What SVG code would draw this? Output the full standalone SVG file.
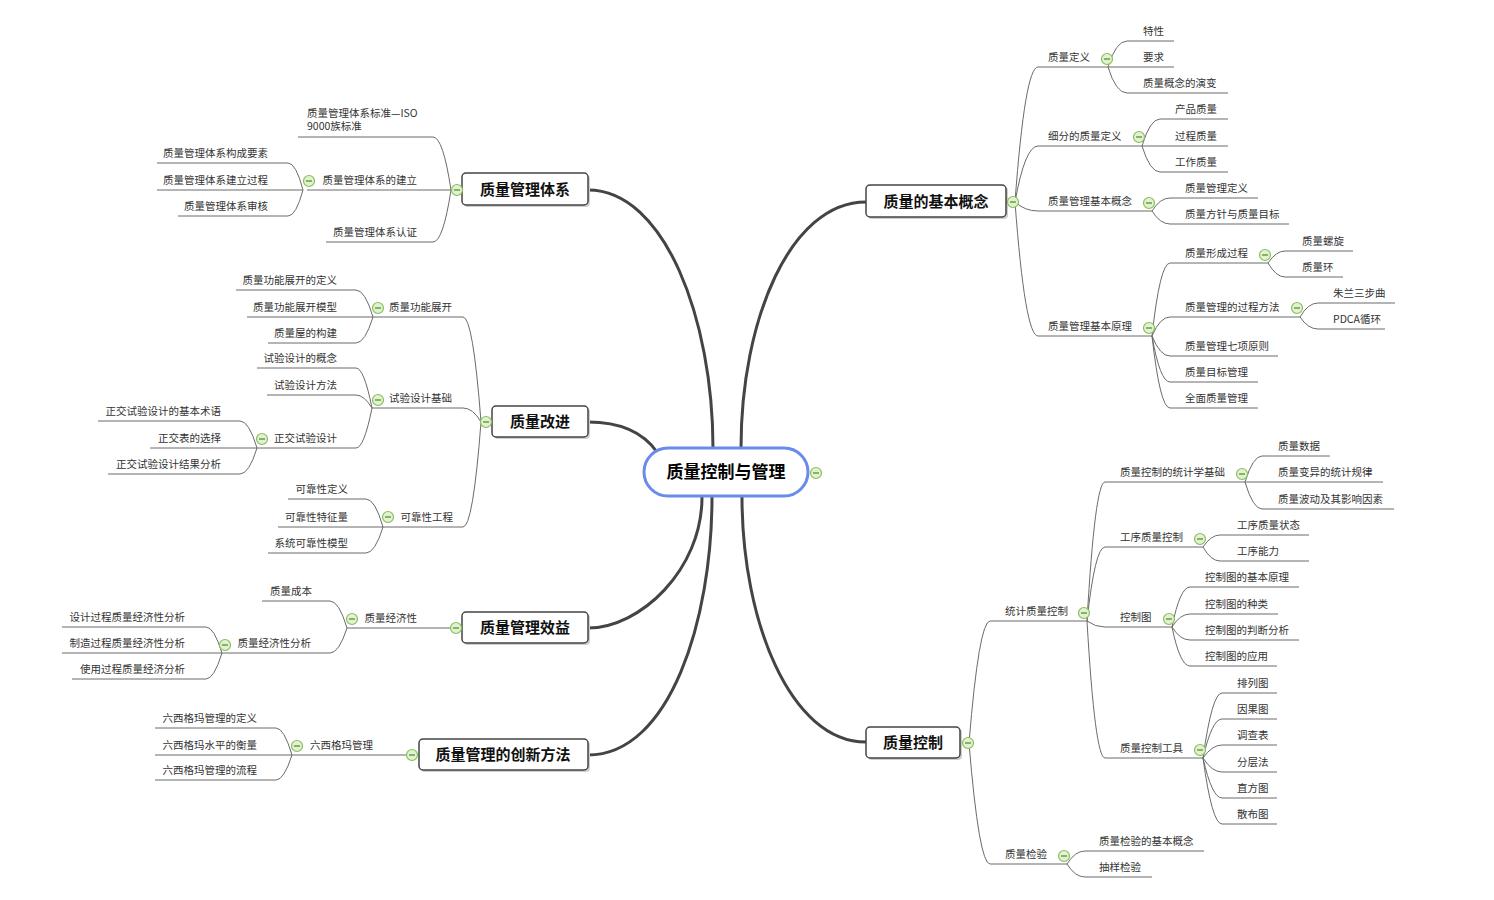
<svg xmlns="http://www.w3.org/2000/svg" xmlns:xlink="http://www.w3.org/1999/xlink" width="1494" height="900" viewBox="0 0 1494 900">
<style>
.main{fill:none;stroke:#444;stroke-width:3}
.sub{fill:none;stroke:#6b6b6b;stroke-width:1}
.t{font-family:"Noto Sans CJK SC","Liberation Sans",sans-serif;font-size:10.5px;fill:#333}
.e{text-anchor:end}
.mt{font-family:"Noto Sans CJK SC","Liberation Sans",sans-serif;font-size:15px;font-weight:bold;fill:#111;text-anchor:middle}
.ct{font-family:"Noto Sans CJK SC","Liberation Sans",sans-serif;font-size:17px;font-weight:bold;fill:#000;text-anchor:middle}
.box{fill:#fff;stroke:#444;stroke-width:1.5}
.sh{fill:#cfcfcf}
.root{fill:#fff;stroke:#6a8bec;stroke-width:3}
</style>
<defs>
<g id="tog"><circle r="5.5" fill="#e2f1d0" stroke="#86c05a" stroke-width="1.2"/><line x1="-3" y1="0" x2="3" y2="0" stroke="#4f8530" stroke-width="1.2"/></g>
</defs>
<rect width="1494" height="900" fill="#fff"/>
<g id="connectors">
<path class="main" d="M588 190 C665 190 713 320 713 448"/>
<path class="main" d="M588 422 C625 422 645 435 657 452"/>
<path class="main" d="M588 628 C640 628 702 570 702 497"/>
<path class="main" d="M588 755 C670 755 712 620 712 497"/>
<path class="main" d="M866 202 C790 202 741 320 741 448"/>
<path class="main" d="M866 742 C790 742 742 620 742 497"/>
<g class="sub">
<path d="M1015 202 Q1025 67 1038 67 H1108"/>
<path d="M1015 202 Q1025 146 1038 146 H1142"/>
<path d="M1015 202 Q1025 211 1038 211 H1152"/>
<path d="M1015 202 Q1025 336 1038 336 H1152"/>
<path d="M1108 67 Q1116 41 1127 41 H1174"/>
<path d="M1108 67 H1174"/>
<path d="M1108 67 Q1116 93 1127 93 H1228"/>
<path d="M1142 146 Q1150 119 1160 119 H1228"/>
<path d="M1142 146 H1228"/>
<path d="M1142 146 Q1150 172 1160 172 H1228"/>
<path d="M1152 211 Q1160 198 1170 198 H1258"/>
<path d="M1152 211 Q1160 224 1170 224 H1289"/>
<path d="M1152 336 Q1160 263 1170 263 H1268"/>
<path d="M1152 336 Q1160 317 1170 317 H1300"/>
<path d="M1152 336 Q1160 356 1170 356 H1278"/>
<path d="M1152 336 Q1160 382 1170 382 H1258"/>
<path d="M1152 336 Q1160 408 1170 408 H1258"/>
<path d="M1268 263 Q1276 251 1285 251 H1353"/>
<path d="M1268 263 Q1276 277 1285 277 H1343"/>
<path d="M1300 317 Q1308 303 1318 303 H1395"/>
<path d="M1300 317 Q1308 329 1318 329 H1385"/>
<path d="M969 743 Q979 621 990 621 H1087"/>
<path d="M969 743 Q979 864 990 864 H1067"/>
<path d="M1087 621 Q1095 482 1105 482 H1245"/>
<path d="M1087 621 Q1095 547 1105 547 H1203"/>
<path d="M1087 621 Q1095 627 1105 627 H1172"/>
<path d="M1087 621 Q1095 758 1105 758 H1203"/>
<path d="M1245 482 Q1253 456 1262 456 H1330"/>
<path d="M1245 482 H1383"/>
<path d="M1245 482 Q1253 509 1262 509 H1394"/>
<path d="M1203 547 Q1211 535 1220 535 H1309"/>
<path d="M1203 547 Q1211 561 1220 561 H1309"/>
<path d="M1172 627 Q1180 587 1190 587 H1299"/>
<path d="M1172 627 Q1180 614 1190 614 H1278"/>
<path d="M1172 627 Q1180 640 1190 640 H1299"/>
<path d="M1172 627 Q1180 666 1190 666 H1277"/>
<path d="M1203 758 Q1212 693 1222 693 H1277"/>
<path d="M1203 758 Q1212 719 1222 719 H1277"/>
<path d="M1203 758 Q1212 745 1222 745 H1277"/>
<path d="M1203 758 Q1212 772 1222 772 H1277"/>
<path d="M1203 758 Q1212 798 1222 798 H1277"/>
<path d="M1203 758 Q1212 824 1222 824 H1277"/>
<path d="M1067 864 Q1075 851 1085 851 H1204"/>
<path d="M1067 864 Q1075 877 1085 877 H1152"/>
<path d="M451 190 Q443 137 433 137 H298"/>
<path d="M451 190 H307"/>
<path d="M451 190 Q443 242 433 242 H326"/>
<path d="M303 190 Q296 163 288 163 H157"/>
<path d="M303 190 H157"/>
<path d="M303 190 Q296 216 288 216 H178"/>
<path d="M481 422 Q473 317 463 317 H373"/>
<path d="M481 422 Q473 408 463 408 H372"/>
<path d="M481 422 Q473 527 463 527 H383"/>
<path d="M373 317 Q365 290 356 290 H236"/>
<path d="M373 317 H247"/>
<path d="M373 317 Q365 343 356 343 H268"/>
<path d="M372 408 Q364 368 356 368 H257"/>
<path d="M372 408 Q364 395 356 395 H267"/>
<path d="M372 408 Q364 448 356 448 H257"/>
<path d="M257 448 Q249 421 240 421 H98"/>
<path d="M257 448 H150"/>
<path d="M257 448 Q249 474 240 474 H108"/>
<path d="M383 527 Q375 499 366 499 H288"/>
<path d="M383 527 H278"/>
<path d="M383 527 Q375 553 366 553 H268"/>
<path d="M451 628 H347"/>
<path d="M347 628 Q339 601 330 601 H262"/>
<path d="M347 628 Q339 653 330 653 H222"/>
<path d="M222 653 Q214 627 206 627 H62"/>
<path d="M222 653 H62"/>
<path d="M222 653 Q214 679 206 679 H72"/>
<path d="M407 755 H292"/>
<path d="M292 755 Q284 728 276 728 H155"/>
<path d="M292 755 H155"/>
<path d="M292 755 Q284 780 276 780 H155"/>
</g>
</g>
<g id="root">
<rect class="root" x="644" y="448" width="164" height="48" rx="24"/>
<text class="ct" x="726" y="478">质量控制与管理</text>
<use xlink:href="#tog" x="816" y="473"/>
</g>
<g id="n-tixi">
<rect class="sh" x="464" y="175" width="126" height="32" rx="4"/>
<rect class="box" x="462" y="173" width="126" height="32" rx="4"/>
<text class="mt" x="525" y="195">质量管理体系</text>
<use xlink:href="#tog" x="457" y="190"/>
</g>
<g id="n-gaijin">
<rect class="sh" x="494" y="408" width="96" height="31" rx="4"/>
<rect class="box" x="492" y="406" width="96" height="31" rx="4"/>
<text class="mt" x="540" y="427">质量改进</text>
<use xlink:href="#tog" x="486" y="422"/>
</g>
<g id="n-xiaoyi">
<rect class="sh" x="464" y="614" width="126" height="31" rx="4"/>
<rect class="box" x="462" y="612" width="126" height="31" rx="4"/>
<text class="mt" x="525" y="633">质量管理效益</text>
<use xlink:href="#tog" x="456" y="628"/>
</g>
<g id="n-chuangxin">
<rect class="sh" x="421" y="741" width="169" height="31" rx="4"/>
<rect class="box" x="419" y="739" width="169" height="31" rx="4"/>
<text class="mt" x="503" y="760">质量管理的创新方法</text>
<use xlink:href="#tog" x="412" y="755"/>
</g>
<g id="n-gainian">
<rect class="sh" x="868" y="187" width="140" height="32" rx="4"/>
<rect class="box" x="866" y="185" width="140" height="32" rx="4"/>
<text class="mt" x="936" y="207">质量的基本概念</text>
<use xlink:href="#tog" x="1013" y="202"/>
</g>
<g id="n-kongzhi">
<rect class="sh" x="868" y="729" width="94" height="31" rx="4"/>
<rect class="box" x="866" y="727" width="94" height="31" rx="4"/>
<text class="mt" x="913" y="748">质量控制</text>
<use xlink:href="#tog" x="968" y="743"/>
</g>
<g id="right-sub" class="t">
<g id="s-dingyi"><text x="1048" y="61">质量定义</text><use xlink:href="#tog" x="1107" y="59"/></g>
<g id="s-xifen"><text x="1048" y="140">细分的质量定义</text><use xlink:href="#tog" x="1139" y="137"/></g>
<g id="s-glgn"><text x="1048" y="205">质量管理基本概念</text><use xlink:href="#tog" x="1149" y="203"/></g>
<g id="s-glyl"><text x="1048" y="330">质量管理基本原理</text><use xlink:href="#tog" x="1149" y="328"/></g>
<g id="s-a1"><text x="1143" y="35">特性</text></g>
<g id="s-a2"><text x="1143" y="61">要求</text></g>
<g id="s-a3"><text x="1143" y="87">质量概念的演变</text></g>
<g id="s-b1"><text x="1175" y="113">产品质量</text></g>
<g id="s-b2"><text x="1175" y="140">过程质量</text></g>
<g id="s-b3"><text x="1175" y="166">工作质量</text></g>
<g id="s-c1"><text x="1185" y="192">质量管理定义</text></g>
<g id="s-c2"><text x="1185" y="218">质量方针与质量目标</text></g>
<g id="s-d1"><text x="1185" y="257">质量形成过程</text><use xlink:href="#tog" x="1265" y="255"/></g>
<g id="s-d2"><text x="1185" y="311">质量管理的过程方法</text><use xlink:href="#tog" x="1297" y="308"/></g>
<g id="s-d3"><text x="1185" y="350">质量管理七项原则</text></g>
<g id="s-d4"><text x="1185" y="376">质量目标管理</text></g>
<g id="s-d5"><text x="1185" y="402">全面质量管理</text></g>
<g id="s-e1"><text x="1302" y="245">质量螺旋</text></g>
<g id="s-e2"><text x="1302" y="271">质量环</text></g>
<g id="s-f1"><text x="1333" y="297">朱兰三步曲</text></g>
<g id="s-f2"><text x="1333" y="323">PDCA循环</text></g>
<g id="s-tongji"><text x="1005" y="615">统计质量控制</text><use xlink:href="#tog" x="1084" y="613"/></g>
<g id="s-jianyan"><text x="1005" y="858">质量检验</text><use xlink:href="#tog" x="1064" y="856"/></g>
<g id="s-g1"><text x="1120" y="476">质量控制的统计学基础</text><use xlink:href="#tog" x="1242" y="474"/></g>
<g id="s-g2"><text x="1120" y="541">工序质量控制</text><use xlink:href="#tog" x="1200" y="539"/></g>
<g id="s-g3"><text x="1120" y="621">控制图</text><use xlink:href="#tog" x="1169" y="619"/></g>
<g id="s-g4"><text x="1120" y="752">质量控制工具</text><use xlink:href="#tog" x="1200" y="750"/></g>
<g id="s-h1"><text x="1278" y="450">质量数据</text></g>
<g id="s-h2"><text x="1278" y="476">质量变异的统计规律</text></g>
<g id="s-h3"><text x="1278" y="503">质量波动及其影响因素</text></g>
<g id="s-i1"><text x="1237" y="529">工序质量状态</text></g>
<g id="s-i2"><text x="1237" y="555">工序能力</text></g>
<g id="s-j1"><text x="1205" y="581">控制图的基本原理</text></g>
<g id="s-j2"><text x="1205" y="608">控制图的种类</text></g>
<g id="s-j3"><text x="1205" y="634">控制图的判断分析</text></g>
<g id="s-j4"><text x="1205" y="660">控制图的应用</text></g>
<g id="s-k1"><text x="1237" y="687">排列图</text></g>
<g id="s-k2"><text x="1237" y="713">因果图</text></g>
<g id="s-k3"><text x="1237" y="739">调查表</text></g>
<g id="s-k4"><text x="1237" y="766">分层法</text></g>
<g id="s-k5"><text x="1237" y="792">直方图</text></g>
<g id="s-k6"><text x="1237" y="818">散布图</text></g>
<g id="s-l1"><text x="1099" y="845">质量检验的基本概念</text></g>
<g id="s-l2"><text x="1099" y="871">抽样检验</text></g>
</g>
<g id="left-sub" class="t">
<g id="s-iso"><text x="307" y="117">质量管理体系标准—ISO</text><text x="307" y="130">9000族标准</text></g>
<g id="s-jianli"><text class="e" x="417" y="184">质量管理体系的建立</text><use xlink:href="#tog" x="309" y="181"/></g>
<g id="s-renzheng"><text class="e" x="417" y="236">质量管理体系认证</text></g>
<g id="s-m1"><text class="e" x="268" y="157">质量管理体系构成要素</text></g>
<g id="s-m2"><text class="e" x="268" y="184">质量管理体系建立过程</text></g>
<g id="s-m3"><text class="e" x="268" y="210">质量管理体系审核</text></g>
<g id="s-qfd"><text class="e" x="452" y="311">质量功能展开</text><use xlink:href="#tog" x="378" y="308"/></g>
<g id="s-syjc"><text class="e" x="452" y="402">试验设计基础</text><use xlink:href="#tog" x="378" y="400"/></g>
<g id="s-kkx"><text class="e" x="453" y="521">可靠性工程</text><use xlink:href="#tog" x="388" y="517"/></g>
<g id="s-n1"><text class="e" x="337" y="284">质量功能展开的定义</text></g>
<g id="s-n2"><text class="e" x="337" y="311">质量功能展开模型</text></g>
<g id="s-n3"><text class="e" x="337" y="337">质量屋的构建</text></g>
<g id="s-o1"><text class="e" x="337" y="362">试验设计的概念</text></g>
<g id="s-o2"><text class="e" x="337" y="389">试验设计方法</text></g>
<g id="s-o3"><text class="e" x="337" y="442">正交试验设计</text><use xlink:href="#tog" x="262" y="439"/></g>
<g id="s-p1"><text class="e" x="221" y="415">正交试验设计的基本术语</text></g>
<g id="s-p2"><text class="e" x="221" y="442">正交表的选择</text></g>
<g id="s-p3"><text class="e" x="221" y="468">正交试验设计结果分析</text></g>
<g id="s-q1"><text class="e" x="348" y="493">可靠性定义</text></g>
<g id="s-q2"><text class="e" x="348" y="521">可靠性特征量</text></g>
<g id="s-q3"><text class="e" x="348" y="547">系统可靠性模型</text></g>
<g id="s-jjx"><text class="e" x="417" y="622">质量经济性</text><use xlink:href="#tog" x="352" y="619"/></g>
<g id="s-r1"><text class="e" x="312" y="595">质量成本</text></g>
<g id="s-r2"><text class="e" x="311" y="647">质量经济性分析</text><use xlink:href="#tog" x="225" y="645"/></g>
<g id="s-s1"><text class="e" x="185" y="621">设计过程质量经济性分析</text></g>
<g id="s-s2"><text class="e" x="185" y="647">制造过程质量经济性分析</text></g>
<g id="s-s3"><text class="e" x="185" y="673">使用过程质量经济分析</text></g>
<g id="s-6s"><text class="e" x="373" y="749">六西格玛管理</text><use xlink:href="#tog" x="297" y="746"/></g>
<g id="s-t1"><text class="e" x="257" y="722">六西格玛管理的定义</text></g>
<g id="s-t2"><text class="e" x="257" y="749">六西格玛水平的衡量</text></g>
<g id="s-t3"><text class="e" x="257" y="774">六西格玛管理的流程</text></g>
</g>
</svg>
